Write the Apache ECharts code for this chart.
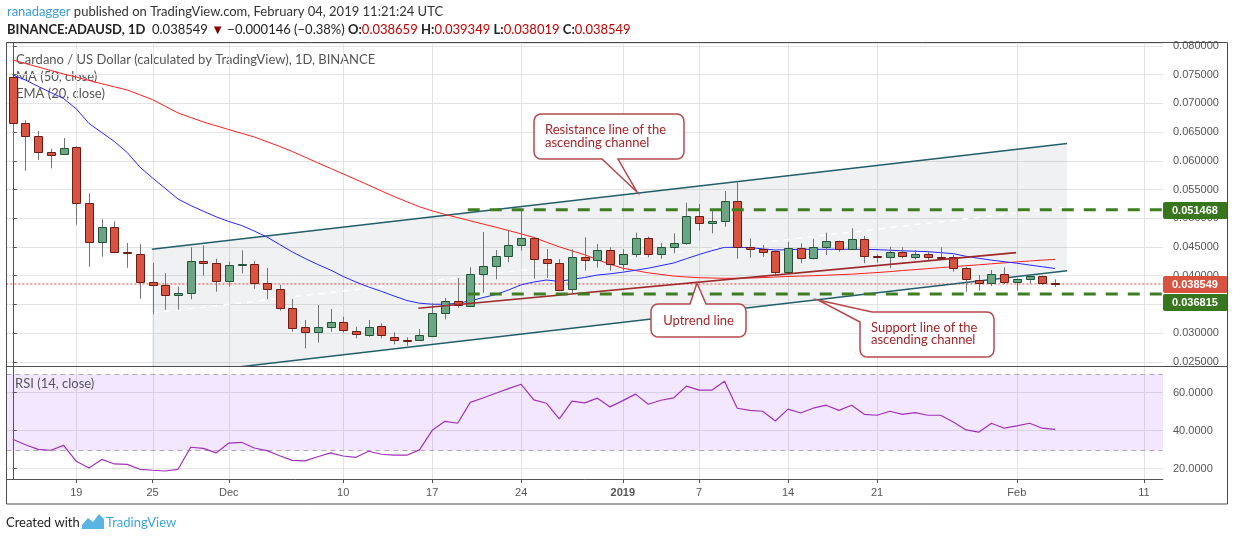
<!DOCTYPE html>
<html><head><meta charset="utf-8">
<script src="https://cdn.jsdelivr.net/npm/echarts@6/dist/echarts.min.js"></script>
<style>html,body{margin:0;padding:0;background:#fff;}#c{width:1234px;height:541px;}</style>
</head><body><div id="c"></div>
<script>
// ---------------- DATA ----------------
const categories = [
'2018-11-14','2018-11-15','2018-11-16','2018-11-17','2018-11-18','2018-11-19','2018-11-20','2018-11-21','2018-11-22','2018-11-23',
'2018-11-24','2018-11-25','2018-11-26','2018-11-27','2018-11-28','2018-11-29','2018-11-30',
'2018-12-01','2018-12-02','2018-12-03','2018-12-04','2018-12-05','2018-12-06','2018-12-07','2018-12-08','2018-12-09','2018-12-10',
'2018-12-11','2018-12-12','2018-12-13','2018-12-14','2018-12-15','2018-12-16','2018-12-17','2018-12-18','2018-12-19','2018-12-20',
'2018-12-21','2018-12-22','2018-12-23','2018-12-24','2018-12-25','2018-12-26','2018-12-27','2018-12-28','2018-12-29','2018-12-30','2018-12-31',
'2019-01-01','2019-01-02','2019-01-03','2019-01-04','2019-01-05','2019-01-06','2019-01-07','2019-01-08','2019-01-09','2019-01-10',
'2019-01-11','2019-01-12','2019-01-13','2019-01-14','2019-01-15','2019-01-16','2019-01-17','2019-01-18','2019-01-19','2019-01-20',
'2019-01-21','2019-01-22','2019-01-23','2019-01-24','2019-01-25','2019-01-26','2019-01-27','2019-01-28','2019-01-29','2019-01-30','2019-01-31',
'2019-02-01','2019-02-02','2019-02-03','2019-02-04','2019-02-05','2019-02-06','2019-02-07','2019-02-08','2019-02-09','2019-02-10','2019-02-11','2019-02-12'
];
const opens = [0.07455,0.06653,0.06427,0.06148,0.06113,0.06235,0.0526,0.0458,0.04842,0.0442,
0.04371,0.03884,0.03831,0.03657,0.03692,0.04249,0.04215,0.03901,0.0418,0.0420,
0.03866,0.03772,0.03441,0.0310,0.03013,0.0310,0.03187,0.0304,0.02966,0.03122,
0.02936,0.02875,0.02873,0.02948,0.03344,0.03558,0.03471,0.04023,0.04162,0.04337,
0.04528,0.0465,0.04284,0.04215,0.03762,0.04319,0.04267,0.04441,0.04197,0.04371,
0.0465,0.04371,0.04493,0.04563,0.05039,0.04911,0.04945,0.05295,0.04504,0.04459,
0.04425,0.04068,0.04476,0.04312,0.04504,0.04598,0.04459,0.04633,0.04335,0.0433,
0.04417,0.0433,0.04377,0.04319,0.0432,0.04128,0.03924,0.03866,0.04028,0.03894,
0.03936,0.03988,0.038659];
const closes = [0.06653,0.06427,0.06148,0.06107,0.06218,0.0526,0.0458,0.04842,0.04417,0.0440,
0.03884,0.03831,0.03657,0.03692,0.04249,0.04215,0.03901,0.0418,0.0420,0.03866,
0.03772,0.03441,0.03082,0.03013,0.0310,0.03187,0.03047,0.02978,0.0310,0.02966,
0.02873,0.0287,0.02966,0.03344,0.03558,0.03493,0.04023,0.04162,0.04337,0.04528,
0.0465,0.04284,0.04215,0.03744,0.04319,0.04267,0.04441,0.04197,0.04371,0.0465,
0.04371,0.04493,0.04563,0.05039,0.04911,0.04951,0.05295,0.04504,0.04459,0.04417,
0.04068,0.04476,0.04312,0.04504,0.04598,0.04459,0.04633,0.04342,0.04325,0.04417,
0.04347,0.04377,0.04319,0.04302,0.04128,0.03936,0.03866,0.04028,0.03894,0.03936,
0.03988,0.03866,0.038549];
const lows = [0.05984,0.05828,0.06014,0.05869,0.0610,0.04887,0.04155,0.0433,0.04389,0.04138,
0.03598,0.03326,0.03406,0.03406,0.03588,0.03999,0.0372,0.03807,0.0404,0.03772,
0.03588,0.03389,0.03023,0.02734,0.02832,0.03023,0.03006,0.02908,0.02936,0.02908,
0.02804,0.0278,0.02873,0.02936,0.03239,0.03441,0.0346,0.03703,0.03936,0.04232,
0.04434,0.03946,0.03959,0.0373,0.03692,0.04086,0.04138,0.04086,0.04086,0.04319,
0.0432,0.04295,0.04389,0.04538,0.04783,0.04737,0.04852,0.04295,0.04312,0.0433,
0.04011,0.0406,0.04215,0.04284,0.04359,0.04417,0.04445,0.04215,0.04227,0.04128,
0.04302,0.04284,0.04255,0.04272,0.04068,0.0372,0.03737,0.03819,0.03854,0.03737,
0.03866,0.03837,0.038019];
const highs = [0.0746,0.06706,0.06519,0.06211,0.06397,0.0625,0.05434,0.04981,0.04946,0.04568,
0.04551,0.04225,0.0404,0.03807,0.04493,0.04528,0.04295,0.04243,0.04441,0.04255,
0.04133,0.03837,0.03593,0.03227,0.03488,0.03419,0.03284,0.0311,0.03227,0.0317,
0.03013,0.02925,0.0307,0.03518,0.0361,0.03959,0.04145,0.0476,0.04446,0.04783,
0.05143,0.0466,0.04464,0.04284,0.04459,0.04668,0.04551,0.04493,0.04459,0.04748,
0.0468,0.04574,0.04737,0.0527,0.05248,0.0516,0.05474,0.05619,0.0465,0.04533,
0.04435,0.04586,0.04563,0.04643,0.04748,0.0461,0.04824,0.0469,0.04373,0.04504,
0.04493,0.04446,0.04417,0.04493,0.04359,0.04155,0.04011,0.04098,0.04145,0.03953,
0.04011,0.0400,0.039349];
const ma50 = [0.07756,0.07695,0.07634,0.07573,0.07512,0.0746,0.07399,0.07342,0.07288,0.07234,
0.0715,0.07065,0.0695,0.06835,0.06755,0.06676,0.0661,0.06544,0.06479,0.06415,
0.06333,0.06251,0.06162,0.06063,0.05964,0.05868,0.05772,0.05674,0.05577,0.05476,
0.05378,0.05288,0.05199,0.05129,0.05066,0.05011,0.04955,0.04899,0.04844,0.04786,
0.04727,0.04666,0.04582,0.04502,0.04431,0.04364,0.04277,0.04197,0.04129,0.04089,
0.04049,0.04021,0.03993,0.03976,0.03964,0.03959,0.03953,0.03955,0.03959,0.03966,
0.03976,0.03985,0.03992,0.03999,0.04007,0.04016,0.04026,0.0404,0.04054,0.0407,
0.04089,0.04105,0.04122,0.0414,0.04155,0.04173,0.04189,0.04206,0.04222,0.04239,
0.04255,0.0427,0.04284];
const ema20 = [0.07495,0.07408,0.07295,0.0719,0.07085,0.06903,0.0665,0.06493,0.06336,0.06145,
0.05892,0.05701,0.05518,0.05335,0.05222,0.05121,0.05025,0.04943,0.04873,0.04777,
0.04673,0.04542,0.04412,0.04298,0.04194,0.04098,0.03985,0.03889,0.03802,0.03727,
0.03645,0.03567,0.0352,0.03502,0.03502,0.03518,0.03561,0.03617,0.03671,0.0375,
0.0384,0.03889,0.03924,0.03898,0.03936,0.03967,0.04011,0.04032,0.0406,0.04094,
0.04129,0.04175,0.0422,0.04295,0.04368,0.04434,0.04493,0.04493,0.0449,0.04466,
0.04446,0.04453,0.04459,0.04459,0.04459,0.04459,0.04459,0.04457,0.04453,0.04443,
0.04432,0.04425,0.04417,0.04401,0.04382,0.04337,0.04302,0.0427,0.04243,0.04216,
0.04185,0.04155,0.04124];
const rsi14 = [35.5,32.6,30.2,29.7,32.3,23.9,20.4,24.9,22.5,22.3,
19.7,19.2,18.8,19.7,31.3,30.7,28.3,33.5,33.9,30.9,
29.5,26.8,24.4,24.1,26.3,28.3,26.7,26.0,29.2,27.6,
27.1,27.1,29.9,40.2,44.9,43.9,54.9,57.2,59.7,62.1,
64.4,56.2,54.4,46.2,55.5,54.6,57.1,52.5,55.8,59.2,
53.9,56.0,57.2,63.4,61.3,61.3,66.0,51.8,50.7,50.2,
45.1,51.3,49.3,51.9,53.4,50.7,53.4,48.6,48.1,50.2,
48.6,49.5,48.1,48.1,44.6,40.4,39.2,43.9,41.3,42.5,
43.9,41.3,40.7];
const tickDates = ['2018-11-19','2018-11-25','2018-12-01','2018-12-10','2018-12-17','2018-12-24','2019-01-01','2019-01-07','2019-01-14','2019-01-21','2019-02-01','2019-02-11'];
const tickLabels = ['19','25','Dec','10','17','24','2019','7','14','21','Feb','11'];
// drawings: [day index, price]
const channelTop = [[10.94, 0.04458],[82.95, 0.0630]];
const channelBottom = [[10.94, 0.02234],[82.95, 0.04086]];
const channelMid = [[10.94, 0.03346],[82.95, 0.05193]];
const uptrendLine = [[31.91, 0.03431],[78.94, 0.0440]];
const levelPrices = [0.051468, 0.036815];
const levelStartIdx = 35.8;
const lastClose = 0.038549;
const rsiBands = [30, 70];
const priceTags = [0.051468, 0.038549, 0.036815];

// ---------------- CHART ----------------
const N = categories.length;
const FONT_UI = 'Lato, "Open Sans", sans-serif';
const FONT_AX = '"Liberation Sans", Arial, sans-serif';
const tickIdx = tickDates.map(d => categories.indexOf(d));
const candleData = opens.map((o, i) => [i, o, closes[i], lows[i], highs[i]]);
const tagColors = ['#38761d', '#d75442', '#38761d'];
const tagShift = [0, 0, 8];

function seg(data, color, width, type, z, xi, yi) {
  return {type:'line', xAxisIndex:xi||0, yAxisIndex:yi||0, data:data, symbol:'none', showSymbol:false,
    silent:true, z:z, clip:true, lineStyle:{color:color, width:width, type:type}, emphasis:{disabled:true}};
}
function vGrid(xi, yi) {
  return {type:'custom', xAxisIndex:xi, yAxisIndex:yi, silent:true, z:0, clip:false,
    data: tickIdx.map(i => [i, 0]), encode:{x:0, y:1},
    renderItem: function(params, api){
      const cs = params.coordSys;
      const x = Math.round(api.coord([api.value(0), 0])[0]) + 0.5;
      return {type:'line', shape:{x1:x, y1:cs.y, x2:x, y2:cs.y+cs.height}, style:{stroke:'#e3e3e3', lineWidth:1}};
    }};
}
function roundPoly(verts, r) {
  // verts: [x,y,round?]
  const out = [];
  const n = verts.length;
  for (let k = 0; k < n; k++) {
    const V = verts[k];
    if (!V[2]) { out.push([V[0], V[1]]); continue; }
    const P = verts[(k - 1 + n) % n], Q = verts[(k + 1) % n];
    const d1 = Math.hypot(P[0]-V[0], P[1]-V[1]), d2 = Math.hypot(Q[0]-V[0], Q[1]-V[1]);
    const a = [V[0] + (P[0]-V[0]) * r / d1, V[1] + (P[1]-V[1]) * r / d1];
    const b = [V[0] + (Q[0]-V[0]) * r / d2, V[1] + (Q[1]-V[1]) * r / d2];
    for (let t = 0; t <= 1.0001; t += 0.2) {
      const u = 1 - t;
      out.push([u*u*a[0] + 2*u*t*V[0] + t*t*b[0], u*u*a[1] + 2*u*t*V[1] + t*t*b[1]]);
    }
  }
  return out;
}
const calloutStroke = '#b5484b', calloutText = '#a3262a';
const calloutA = roundPoly([[534,114,1],[684,114,1],[684,159,1],[618,159],[637,192],[602,159],[534,159,1]], 8);
const calloutB = roundPoly([[651,304,1],[690,304],[697,283],[706,304],[746,304,1],[746,337,1],[651,337,1]], 8);
const calloutC = roundPoly([[872,312],[994,312,1],[994,357,1],[860,357,1],[860,322],[818,300]], 8);

const chart = echarts.init(document.getElementById('c'), null, {renderer:'canvas', width:1234, height:541});
const option = {
  animation:false,
  backgroundColor:'#ffffff',
  textStyle:{fontFamily:FONT_AX},
  grid:[
    {left:6.4, right:71, top:43, height:323, containLabel:false, outerBoundsMode:'none'},
    {left:6.4, right:71, top:366, height:113, containLabel:false, outerBoundsMode:'none'}
  ],
  xAxis:[
    {type:'value', gridIndex:0, min:-0.5, max:N-0.5, show:false, position:'bottom'},
    {type:'value', gridIndex:1, min:-0.5, max:N-0.5, show:false, position:'bottom'},
    {type:'category', gridIndex:1, data:categories, position:'bottom', boundaryGap:true,
      axisLine:{show:true, lineStyle:{color:'#555', width:1}},
      axisTick:{show:true, alignWithLabel:true, length:4, lineStyle:{color:'#555'},
        interval:(i, v) => tickDates.indexOf(v) >= 0},
      axisLabel:{show:true, margin:8, color:'#555', fontSize:11, fontFamily:FONT_AX,
        interval:(i, v) => tickDates.indexOf(v) >= 0,
        formatter:(v) => { const t = tickLabels[tickDates.indexOf(v)]; return t === '2019' ? '{b|2019}' : t; },
        rich:{b:{fontWeight:'bold', fontSize:11, color:'#555', fontFamily:FONT_AX}}},
      splitLine:{show:false}}
  ],
  yAxis:[
    {type:'value', gridIndex:0, position:'right', min:0.02426, max:0.08052, splitNumber:11,
      axisLine:{show:true, lineStyle:{color:'#555'}},
      axisTick:{show:true, length:4, lineStyle:{color:'#555'}},
      axisLabel:{show:true, margin:10, color:'#555', fontSize:11, fontFamily:FONT_AX,
        formatter:(v) => v.toFixed(6), showMinLabel:false, showMaxLabel:false},
      splitLine:{show:true, lineStyle:{color:'#e3e3e3', width:1}}},
    {type:'value', gridIndex:1, position:'right', min:14.6, max:74.0, splitNumber:3,
      axisLine:{show:true, lineStyle:{color:'#555'}},
      axisTick:{show:true, length:4, lineStyle:{color:'#555'}},
      axisLabel:{show:true, margin:10, color:'#555', fontSize:11, fontFamily:FONT_AX,
        formatter:(v) => v.toFixed(4), showMinLabel:false, showMaxLabel:false},
      splitLine:{show:true, lineStyle:{color:'#e3e3e3', width:1}}}
  ],
  series:[
    vGrid(0, 0),
    vGrid(1, 1),
    // RSI band
    {type:'custom', xAxisIndex:1, yAxisIndex:1, silent:true, z:1, clip:false,
      data:[[0, rsiBands[0], rsiBands[1]]], encode:{x:0, y:[1,2]},
      renderItem:function(params, api){
        const cs = params.coordSys;
        const yLo = Math.round(api.coord([0, api.value(1)])[1]) + 0.5;
        const yHi = Math.round(api.coord([0, api.value(2)])[1]) + 0.5;
        return {type:'group', children:[
          {type:'rect', shape:{x:cs.x, y:yHi, width:cs.width, height:yLo-yHi}, style:{fill:'rgba(149,40,255,0.11)'}},
          {type:'line', shape:{x1:cs.x, y1:yHi, x2:cs.x+cs.width, y2:yHi}, style:{stroke:'#b3a6bb', lineWidth:1, lineDash:[5,4]}},
          {type:'line', shape:{x1:cs.x, y1:yLo, x2:cs.x+cs.width, y2:yLo}, style:{stroke:'#b3a6bb', lineWidth:1, lineDash:[5,4]}}
        ]};
      }},
    // channel fill
    {type:'custom', xAxisIndex:0, yAxisIndex:0, silent:true, z:1, clip:true,
      data:[[channelTop[0][0], channelTop[0][1]]], encode:{x:0, y:1},
      renderItem:function(params, api){
        const pts = [api.coord(channelTop[0]), api.coord(channelTop[1]), api.coord(channelBottom[1]), api.coord(channelBottom[0])];
        return {type:'polygon', shape:{points:pts}, style:{fill:'rgba(103,115,140,0.1)'}};
      }},
    seg(channelMid, 'rgba(255,255,255,0.95)', 1.5, [6,6], 2),
    seg([[-0.5, lastClose],[N-0.5, lastClose]], '#e2453a', 1, [2,2], 2),
    seg(channelTop, '#225e69', 1.5, 'solid', 3),
    seg(channelBottom, '#225e69', 1.5, 'solid', 3),
    seg(ma50.map((v,i)=>[i,v]), '#ff1f1f', 1, 'solid', 4),
    seg(ema20.map((v,i)=>[i,v]), '#2626ff', 1, 'solid', 4),
    // candles
    {type:'custom', xAxisIndex:0, yAxisIndex:0, silent:true, z:5, clip:true,
      data:candleData, encode:{x:0, y:[1,2,3,4]},
      renderItem:function(params, api){
        const i = api.value(0), o = api.value(1), c = api.value(2), l = api.value(3), h = api.value(4);
        const po = api.coord([i,o]), pc = api.coord([i,c]), pl = api.coord([i,l]), ph = api.coord([i,h]);
        const cx = Math.round(po[0]);
        const bw = 8;
        const top = Math.round(Math.min(po[1], pc[1])), bot = Math.round(Math.max(po[1], pc[1]));
        const up = c >= o;
        return {type:'group', children:[
          {type:'line', shape:{x1:cx+0.5, y1:ph[1], x2:cx+0.5, y2:pl[1]}, style:{stroke:'#737375', lineWidth:1}},
          {type:'rect', shape:{x:cx-bw/2+0.5, y:top+0.5, width:bw, height:Math.max(bot-top,1)},
            style:{fill:up?'#6ba583':'#d75442', stroke:up?'#225437':'#6b1c14', lineWidth:1}}
        ]};
      }},
    seg(uptrendLine, '#9e2a2b', 1.6, 'solid', 6),
    seg([[levelStartIdx, levelPrices[0]],[N-0.5, levelPrices[0]]], '#3f7d23', 3, [12,10], 6),
    seg([[levelStartIdx, levelPrices[1]],[N-0.5, levelPrices[1]]], '#3f7d23', 3, [12,10], 6),
    // RSI
    seg(rsi14.map((v,i)=>[i,v]), '#9f32b8', 1.2, 'solid', 3, 1, 1),
    // price tags on axis
    {type:'custom', xAxisIndex:0, yAxisIndex:0, silent:true, z:20, clip:false,
      data:priceTags.map(v => [0, v]), encode:{x:0, y:1},
      renderItem:function(params, api){
        const cs = params.coordSys;
        const v = api.value(1);
        const y = Math.round(api.coord([0, v])[1]) + tagShift[params.dataIndex];
        const x0 = cs.x + cs.width;
        return {type:'group', children:[
          {type:'rect', shape:{x:x0, y:y-8, width:65, height:17, r:2}, style:{fill:tagColors[params.dataIndex]}},
          {type:'text', x:x0+9, y:y+0.5, style:{text:v.toFixed(6), fill:'#ffffff', font:'bold 11px ' + FONT_AX, verticalAlign:'middle', align:'left'}}
        ]};
      }}
  ],
  graphic:[
    {type:'text', x:7, y:12, z:1, silent:true, style:{
      text:'{u|ranadagger} published on TradingView.com, February 04, 2019 11:21:24 UTC',
      font:'13px ' + FONT_UI, fill:'#333', verticalAlign:'middle',
      rich:{u:{fill:'#3d9ad6', font:'13px ' + FONT_UI}}}},
    {type:'text', x:7, y:30, z:1, silent:true, style:{
      text:'{b|BINANCE:ADAUSD, 1D}  0.038549 {d|▼} \u22120.000146 (\u22120.38%) {b|O:}{r|0.038659} {b|H:}{r|0.039349} {b|L:}{r|0.038019} {b|C:}{r|0.038549}',
      font:'13px ' + FONT_UI, fill:'#222', verticalAlign:'middle',
      rich:{b:{font:'bold 13px ' + FONT_UI, fill:'#222'}, r:{font:'13px ' + FONT_UI, fill:'#c40000'}, d:{font:'13px ' + FONT_UI, fill:'#8b0000'}}}},
    {type:'text', x:16, y:60, z:0, silent:true, style:{text:'Cardano / US Dollar (calculated by TradingView), 1D, BINANCE', font:'13px ' + FONT_UI, fill:'#555', verticalAlign:'middle'}},
    {type:'text', x:16, y:77, z:0, silent:true, style:{text:'MA (50, close)', font:'13px ' + FONT_UI, fill:'#555', verticalAlign:'middle'}},
    {type:'text', x:16, y:94, z:0, silent:true, style:{text:'EMA (20, close)', font:'13px ' + FONT_UI, fill:'#555', verticalAlign:'middle'}},
    {type:'text', x:15, y:384, z:30, silent:true, style:{text:'RSI (14, close)', font:'13px ' + FONT_UI, fill:'#555', verticalAlign:'middle'}},
    // frame
    {type:'rect', z:50, silent:true, shape:{x:6.5, y:42.5, width:1221, height:461.5}, style:{fill:'none', stroke:'#4d4d4d', lineWidth:1}},
    {type:'line', z:50, silent:true, shape:{x1:6.5, y1:366.5, x2:1227.5, y2:366.5}, style:{stroke:'#4d4d4d', lineWidth:1}},
    // callouts
    {type:'polygon', z:100, silent:true, shape:{points:calloutA}, style:{fill:'#fff', stroke:calloutStroke, lineWidth:1.5}},
    {type:'text', z:101, silent:true, x:545, y:129.5, style:{text:'Resistance line of the', font:'13px ' + FONT_UI, fill:calloutText, verticalAlign:'middle'}},
    {type:'text', z:101, silent:true, x:545, y:142.5, style:{text:'ascending channel', font:'13px ' + FONT_UI, fill:calloutText, verticalAlign:'middle'}},
    {type:'polygon', z:100, silent:true, shape:{points:calloutB}, style:{fill:'#fff', stroke:calloutStroke, lineWidth:1.5}},
    {type:'text', z:101, silent:true, x:698.5, y:321, style:{text:'Uptrend line', font:'13px ' + FONT_UI, fill:calloutText, verticalAlign:'middle', align:'center'}},
    {type:'polygon', z:100, silent:true, shape:{points:calloutC}, style:{fill:'#fff', stroke:calloutStroke, lineWidth:1.5}},
    {type:'text', z:101, silent:true, x:871, y:327.5, style:{text:'Support line of the', font:'13px ' + FONT_UI, fill:calloutText, verticalAlign:'middle'}},
    {type:'text', z:101, silent:true, x:871, y:340, style:{text:'ascending channel', font:'13px ' + FONT_UI, fill:calloutText, verticalAlign:'middle'}},
    // footer
    {type:'text', x:6, y:523, silent:true, style:{text:'Created with', font:'13px ' + FONT_UI, fill:'#222', verticalAlign:'middle'}},
    {type:'polygon', silent:true, shape:{points:[[82,529],[82,525],[88,518],[93,522],[99,514],[104,519],[104,529]]}, style:{fill:'#5ab4e3'}},
    {type:'text', x:106, y:523, silent:true, style:{text:'TradingView', font:'13px ' + FONT_UI, fill:'#3ea6dd', verticalAlign:'middle'}}
  ]
};
chart.setOption(option);
</script>
</body></html>
